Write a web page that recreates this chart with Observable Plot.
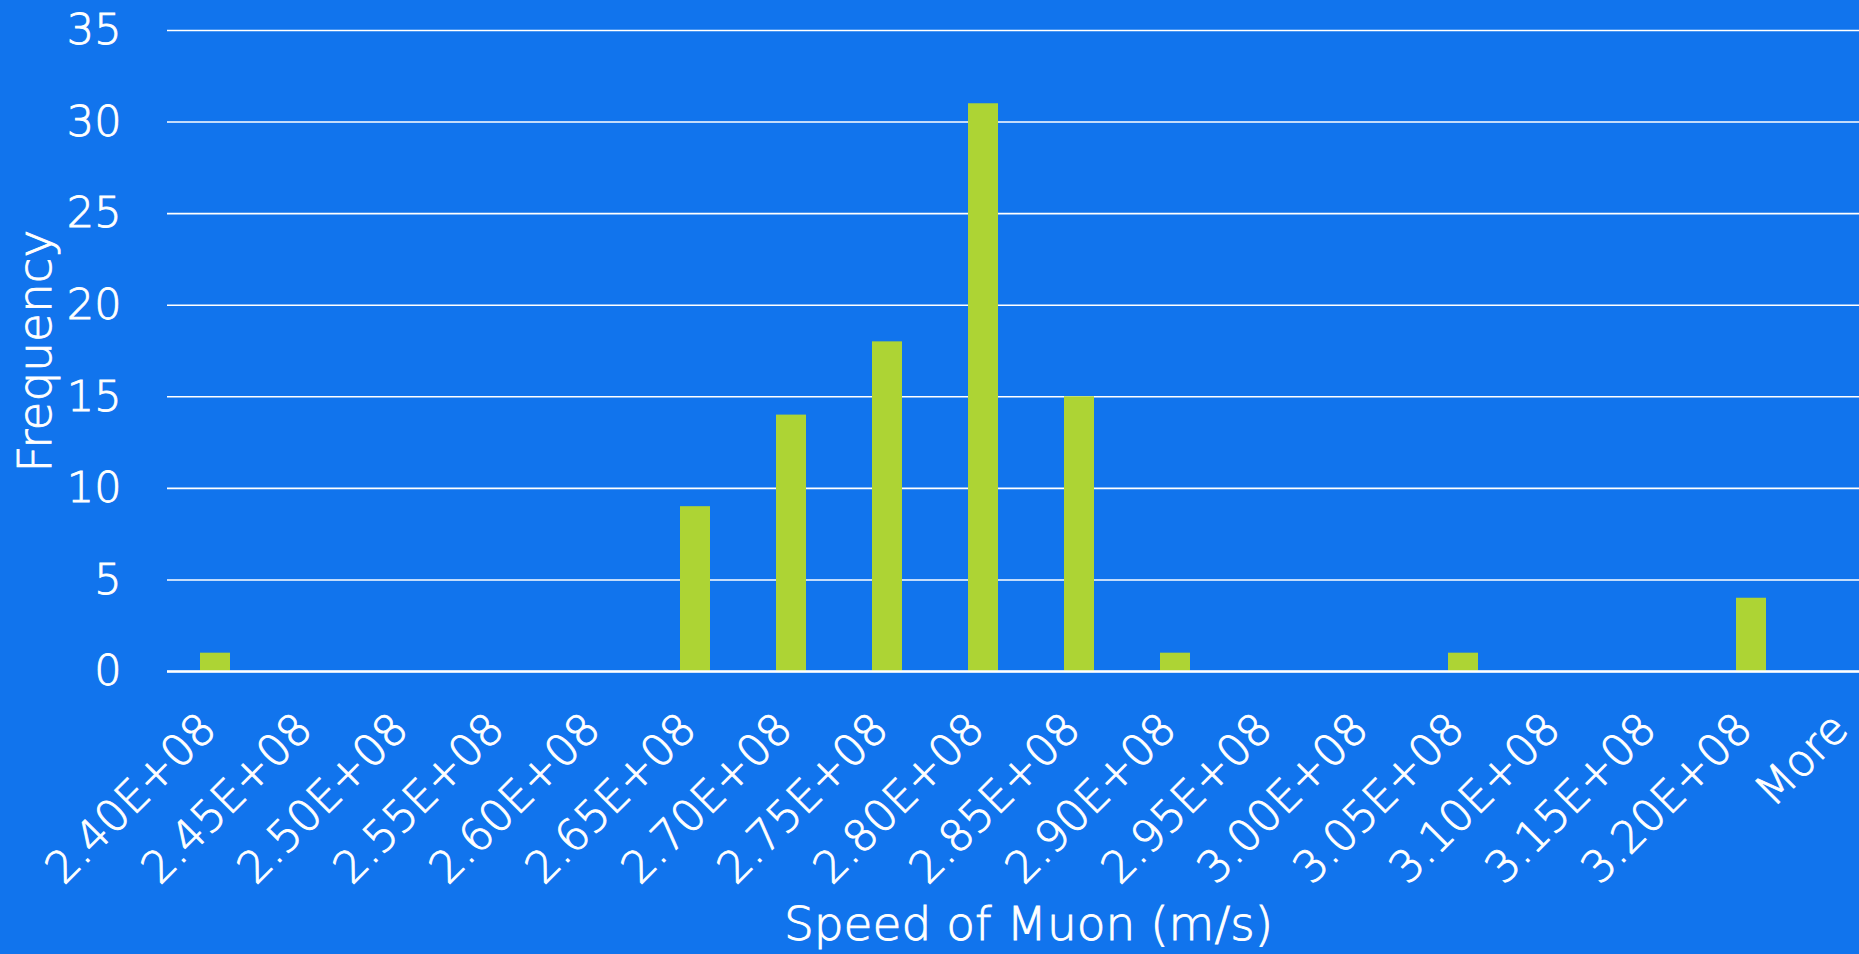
<!DOCTYPE html>
<html>
<head>
<meta charset="utf-8">
<script src="https://cdn.jsdelivr.net/npm/d3@7"></script>
<script src="https://cdn.jsdelivr.net/npm/@observablehq/plot@0.6"></script>
<style>
  html, body { margin: 0; padding: 0; background: #1174ED; overflow: hidden; }
  #chart svg { display: block; }
  #chart svg text { stroke: white; stroke-width: 0.9px; }
</style>
</head>
<body>
<div id="chart"></div>
<script>
const bins = ["2.40E+08","2.45E+08","2.50E+08","2.55E+08","2.60E+08","2.65E+08","2.70E+08","2.75E+08","2.80E+08","2.85E+08","2.90E+08","2.95E+08","3.00E+08","3.05E+08","3.10E+08","3.15E+08","3.20E+08","More"];
const freq = [1,0,0,0,0,9,14,18,31,15,1,0,0,1,0,0,4,0];
const yTicks = [0,5,10,15,20,25,30,35];
const xTitle = "Speed of Muon (m/s)";
const yTitle = "Frequency";

const data = bins.map((b, i) => ({bin: b, freq: freq[i]}));

const chart = Plot.plot({
  width: 1859,
  height: 954,
  marginTop: 30,
  marginBottom: 283,
  marginLeft: 167,
  marginRight: 0,
  style: {background: "#1174ED", color: "white", fontFamily: "'DejaVu Sans', sans-serif", fontWeight: 200, fontSize: "44px", overflow: "hidden"},
  x: {type: "band", domain: bins, range: [167, 1895], round: false, paddingInner: 0.6875, paddingOuter: 0.34375, label: null},
  y: {domain: [0, 35], label: null},
  marks: [
    Plot.gridY(yTicks, {stroke: "white", strokeOpacity: 1, strokeWidth: 1.6}),
    Plot.barY(data, {x: "bin", y: "freq", fill: "#ADD434"}),
    Plot.ruleY([0], {stroke: "white", strokeWidth: 2.5}),
    Plot.axisY(yTicks, {tickSize: 0, tickPadding: 46, fontSize: 43, label: null}),
    Plot.axisX({tickSize: 0, tickRotate: -45, tickPadding: 50, dx: -7, fontSize: 44, label: null}),
    Plot.text([xTitle], {frameAnchor: "bottom", lineAnchor: "middle", textAnchor: "middle", dx: 15, dy: 253, fontSize: 47, fill: "white"}),
    Plot.text([yTitle], {frameAnchor: "left", lineAnchor: "middle", textAnchor: "middle", rotate: -90, dx: -132, fontSize: 47, fill: "white"})
  ]
});
document.getElementById("chart").appendChild(chart);
</script>
</body>
</html>
